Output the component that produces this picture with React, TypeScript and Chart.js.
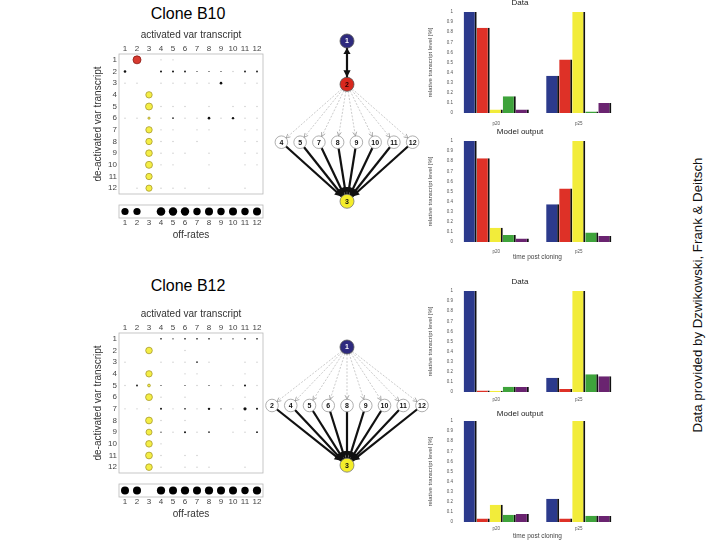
import React, { useEffect, useRef } from 'react';
import { Chart, registerables } from 'chart.js';

Chart.register(...registerables);
const FONT = '"Liberation Sans", Arial, Helvetica, sans-serif';
Chart.defaults.font.family = FONT;

// ---------------- DATA ----------------
// matrix: activated (column) x de-activated (row) var transcripts
const varIds = [1, 2, 3, 4, 5, 6, 7, 8, 9, 10, 11, 12];
const varTickLabels = ['1', '2', '3', '4', '5', '6', '7', '8', '9', '10', '11', '12'];

// [column, row, size]
const b10Red = [[2, 1, 4.0]];
const b10Yellow = [[3, 4, 3.2], [3, 5, 3.5], [3, 6, 1.1], [3, 7, 3.2], [3, 8, 3.2], [3, 9, 3.3], [3, 10, 3.5], [3, 11, 3.2], [3, 12, 3.1]];
const b10Black = [[1, 2, 1.3], [4, 2, 1.0], [5, 2, 1.0], [6, 2, 0.9], [7, 2, 0.6], [8, 2, 0.6], [9, 2, 0.6], [11, 2, 0.9], [12, 2, 0.9], [9, 3, 1.3], [5, 6, 0.8], [8, 6, 1.3], [10, 6, 1.2]];
// [column, row] faint traces
const b10Faint = [[4, 1], [5, 1], [10, 2], [1, 3], [2, 3], [4, 3], [5, 3], [6, 3], [7, 3], [8, 3], [11, 3], [12, 3], [4, 5], [5, 5], [6, 5], [8, 5], [10, 5], [11, 5], [12, 5], [1, 6], [2, 6], [4, 6], [6, 6], [7, 6], [9, 6], [11, 6], [12, 6], [4, 7], [5, 7], [7, 7], [8, 7], [11, 7], [12, 7], [4, 8], [5, 8], [7, 8], [11, 8], [12, 8], [4, 9], [5, 9], [6, 9], [8, 9], [11, 9], [12, 9], [4, 10], [5, 10], [8, 10], [11, 10], [12, 10], [2, 12], [4, 12], [5, 12], [6, 12], [8, 12], [11, 12]];
const b10OffRates = [3.6, 3.6, null, 4.3, 4.2, 4.2, 3.7, 4.0, 3.7, 4.0, 3.7, 4.0];

const b12Red: number[][] = [];
const b12Yellow = [[3, 2, 3.3], [3, 4, 3.2], [3, 5, 1.4], [3, 6, 3.4], [3, 8, 3.4], [3, 9, 3.0], [3, 10, 3.3], [3, 11, 3.4], [3, 12, 3.3]];
const b12Black = [[4, 1, 0.8], [5, 1, 0.7], [6, 1, 0.8], [7, 1, 0.8], [8, 1, 0.8], [9, 1, 0.7], [10, 1, 0.7], [11, 1, 0.8], [12, 1, 0.8], [7, 3, 0.8], [2, 5, 0.9], [4, 5, 0.6], [6, 5, 0.6], [8, 5, 0.6], [11, 5, 1.0], [4, 7, 1.0], [6, 7, 0.8], [8, 7, 1.2], [9, 7, 0.7], [11, 7, 1.6], [12, 7, 1.0], [4, 9, 0.6], [6, 9, 1.0], [8, 9, 0.8], [12, 9, 0.9]];
const b12Faint = [[6, 2], [1, 3], [4, 3], [5, 3], [6, 3], [8, 3], [11, 3], [12, 3], [6, 4], [7, 4], [11, 4], [1, 5], [7, 5], [9, 5], [10, 5], [12, 5], [4, 6], [6, 6], [11, 6], [1, 7], [2, 7], [3, 7], [5, 7], [7, 7], [10, 7], [4, 8], [6, 8], [11, 8], [5, 9], [7, 9], [10, 9], [11, 9], [4, 10], [4, 11], [6, 11], [7, 11], [4, 12], [6, 12], [7, 12], [8, 12], [11, 12]];
const b12OffRates = [4.0, 4.0, null, 4.1, 4.0, 4.1, 4.0, 4.1, 4.0, 4.0, 3.7, 4.1];

// networks: chain nodes (top), middle row, sink node
const b10Chain = ['1', '2'];
const b10Middle = ['4', '5', '7', '8', '9', '10', '11', '12'];
const b12Chain = ['1'];
const b12Middle = ['2', '4', '5', '6', '8', '9', '10', '11', '12'];
const sinkNode = '3';

// bar charts: rows = transcript series, columns = time points
const timeLabels = ['p20', 'p25'];
const seriesNames = ['var 1', 'var 2', 'var 3', 'var a', 'var b'];
const b10DataValues = [[1.0, 0.37], [0.845, 0.53], [0.035, 1.0], [0.165, 0.015], [0.035, 0.1]];
const b10ModelValues = [[1.0, 0.375], [0.83, 0.53], [0.14, 1.0], [0.07, 0.095], [0.035, 0.06]];
const b12DataValues = [[1.0, 0.14], [0.015, 0.03], [0.012, 1.0], [0.053, 0.175], [0.05, 0.155]];
const b12ModelValues = [[1.0, 0.23], [0.035, 0.035], [0.17, 1.0], [0.073, 0.063], [0.08, 0.06]];

// ---------------- STYLE ----------------
const barColors = ['#2c3a8c', '#de3127', '#f2ec3a', '#3ea33b', '#6a2470'];
const chainFills = ['#2e2a7e', '#d8281e'];
const chainTexts = ['#ffffff', '#2a0000'];
const sinkFill = '#f5ee2a';

const boxPlugin = {
  id: 'box',
  afterDraw(chart: any) {
    const { ctx, chartArea: a } = chart;
    ctx.save();
    ctx.strokeStyle = '#b8b8b8';
    ctx.lineWidth = 0.8;
    ctx.strokeRect(a.left, a.top, a.right - a.left, a.bottom - a.top);
    ctx.restore();
  },
};

function ChartBox(props: { left: number; top: number; width: number; height: number; make: () => any }) {
  const ref = useRef<HTMLCanvasElement>(null);
  useEffect(() => {
    const chart = new Chart(ref.current as HTMLCanvasElement, props.make());
    return () => chart.destroy();
  }, []);
  const { left, top, width, height } = props;
  return (
    <canvas
      ref={ref}
      width={width}
      height={height}
      style={{ position: 'absolute', left, top, width, height }}
    />
  );
}

const fixedTicks = (a: any) => {
  a.ticks = varIds.map((v) => ({ value: v }));
};

function matrixConfig(red: number[][], yellow: number[][], black: number[][], faint: number[][]) {
  const pts = (arr: number[][]) => arr.map(([c, r, s]) => ({ x: c, y: r, r: s }));
  return {
    type: 'bubble',
    data: {
      datasets: [
        { data: pts(red), backgroundColor: '#d83a30', borderColor: '#8a1a14', borderWidth: 0.8 },
        { data: pts(yellow), backgroundColor: '#f4ee45', borderColor: '#a89a30', borderWidth: 0.8 },
        { data: pts(black), backgroundColor: '#111111', borderWidth: 0 },
        { data: faint.map(([c, r]) => ({ x: c, y: r, r: 0.7 })), backgroundColor: '#c4c4c4', borderWidth: 0 },
      ],
    },
    options: {
      animation: false,
      responsive: false,
      events: [],
      layout: { autoPadding: false, padding: { left: 0, right: 4, top: 0, bottom: 10 } },
      plugins: { legend: { display: false }, tooltip: { enabled: false } },
      scales: {
        x: {
          type: 'linear',
          position: 'top',
          min: 0.5,
          max: 12.5,
          afterBuildTicks: fixedTicks,
          afterFit: (a: any) => { a.height = 31; },
          grid: { display: false, drawTicks: false },
          border: { display: false },
          ticks: { font: { size: 8 }, color: '#444', padding: 0, autoSkip: false, maxRotation: 0, callback: (_v: any, i: number) => varTickLabels[i] },
          title: { display: true, text: 'activated var transcript', font: { size: 10 }, color: '#333', padding: { top: 6, bottom: 0 } },
        },
        y: {
          type: 'linear',
          reverse: true,
          min: 0.5,
          max: 12.5,
          afterBuildTicks: fixedTicks,
          afterFit: (a: any) => { a.width = 34; },
          grid: { display: false, drawTicks: false },
          border: { display: false },
          ticks: { font: { size: 8 }, color: '#444', padding: 2, autoSkip: false, callback: (_v: any, i: number) => varTickLabels[i] },
          title: { display: true, text: 'de-activated var transcript', font: { size: 10 }, color: '#333', padding: { top: 7, bottom: 0 } },
        },
      },
    },
    plugins: [boxPlugin],
  };
}

function offRateConfig(sizes: (number | null)[]) {
  const pts = sizes
    .map((s, i) => (s == null ? null : { x: varIds[i], y: 1, r: s }))
    .filter((p) => p !== null);
  return {
    type: 'bubble',
    data: { datasets: [{ data: pts, backgroundColor: '#000000', borderWidth: 0 }] },
    options: {
      animation: false,
      responsive: false,
      events: [],
      layout: { autoPadding: false, padding: { left: 34, right: 4, top: 5, bottom: 0 } },
      plugins: { legend: { display: false }, tooltip: { enabled: false } },
      scales: {
        x: {
          type: 'linear',
          position: 'bottom',
          min: 0.5,
          max: 12.5,
          afterBuildTicks: fixedTicks,
          afterFit: (a: any) => { a.height = 27; },
          grid: { display: false, drawTicks: false },
          border: { display: false },
          ticks: { font: { size: 8 }, color: '#444', padding: 0, autoSkip: false, maxRotation: 0, callback: (_v: any, i: number) => varTickLabels[i] },
          title: { display: true, text: 'off-rates', font: { size: 10 }, color: '#333', padding: { top: 0, bottom: 4 } },
        },
        y: { display: false, min: 0, max: 2 },
      },
    },
    plugins: [boxPlugin],
  };
}

// network layout
const NET_X_UNIT = 18.75;
const NET_Y_UNIT = 58.5;

type NetNode = { id: string; x: number; y: number; r: number; fill: string; text: string; border: string };

function buildNetwork(chain: string[], chainLevels: number[], middle: string[], midLevel: number, sinkLevel: number) {
  const nodes: NetNode[] = [];
  chain.forEach((id, i) => nodes.push({ id, x: 0, y: chainLevels[i], r: 7, fill: chainFills[i], text: chainTexts[i], border: '#555555' }));
  middle.forEach((id, i) => nodes.push({ id, x: i - (middle.length - 1) / 2, y: midLevel, r: 6.3, fill: '#ffffff', text: '#111111', border: '#9a9a9a' }));
  nodes.push({ id: sinkNode, x: 0, y: sinkLevel, r: 7, fill: sinkFill, text: '#111111', border: '#777777' });
  const edges: [string, string, string][] = [];
  for (let i = 0; i < chain.length - 1; i++) edges.push([chain[i], chain[i + 1], 'double']);
  const last = chain[chain.length - 1];
  middle.forEach((m) => edges.push([last, m, 'thin']));
  middle.forEach((m) => edges.push([m, sinkNode, 'thick']));
  return { nodes, edges };
}

function drawHead(ctx: CanvasRenderingContext2D, px: number, py: number, r: number, ux: number, uy: number, len: number, hw: number, filled: boolean, color: string) {
  const tx = px - ux * r;
  const ty = py - uy * r;
  const bx = tx - ux * len;
  const by = ty - uy * len;
  const nx = -uy;
  const ny = ux;
  ctx.beginPath();
  ctx.moveTo(bx + nx * hw, by + ny * hw);
  ctx.lineTo(tx, ty);
  ctx.lineTo(bx - nx * hw, by - ny * hw);
  if (filled) {
    ctx.closePath();
    ctx.fillStyle = color;
    ctx.fill();
  } else {
    ctx.setLineDash([]);
    ctx.strokeStyle = color;
    ctx.lineWidth = 0.7;
    ctx.stroke();
  }
}

function networkConfig(net: { nodes: NetNode[]; edges: [string, string, string][] }, width: number, height: number, topOffset: number) {
  const byId = (id: string) => net.nodes.find((n) => n.id === id) as NetNode;
  const edgeSets = net.edges.map(([a, b, kind]) => {
    const A = byId(a);
    const B = byId(b);
    return {
      data: [{ x: A.x, y: A.y }, { x: B.x, y: B.y }],
      showLine: true,
      pointRadius: 0,
      borderColor: kind === 'thin' ? '#a8a8a8' : '#111111',
      borderWidth: kind === 'thin' ? 0.6 : 2.2,
      borderDash: kind === 'thin' ? [2, 1.5] : [],
    };
  });
  const nodeSet = {
    data: net.nodes.map((n) => ({ x: n.x, y: n.y })),
    pointRadius: net.nodes.map((n) => n.r),
    pointBackgroundColor: net.nodes.map((n) => n.fill),
    pointBorderColor: net.nodes.map((n) => n.border),
    pointBorderWidth: 0.8,
    showLine: false,
  };
  const plugin = {
    id: 'netHeads',
    afterDatasetsDraw(chart: any) {
      const { ctx } = chart;
      const xs = chart.scales.x;
      const ys = chart.scales.y;
      const px = (n: NetNode) => xs.getPixelForValue(n.x);
      const py = (n: NetNode) => ys.getPixelForValue(n.y);
      ctx.save();
      for (const [a, b, kind] of net.edges) {
        const A = byId(a);
        const B = byId(b);
        const dx = px(B) - px(A);
        const dy = py(B) - py(A);
        const d = Math.hypot(dx, dy);
        const ux = dx / d;
        const uy = dy / d;
        if (kind === 'thin') {
          drawHead(ctx, px(B), py(B), B.r, ux, uy, 4, 2, false, '#8a8a8a');
        } else {
          drawHead(ctx, px(B), py(B), B.r, ux, uy, 7, 3.6, true, '#111111');
          if (kind === 'double') drawHead(ctx, px(A), py(A), A.r, -ux, -uy, 6, 3.6, true, '#111111');
        }
      }
      ctx.font = 'bold 7px ' + FONT;
      ctx.textAlign = 'center';
      ctx.textBaseline = 'middle';
      for (const n of net.nodes) {
        ctx.fillStyle = n.text;
        ctx.fillText(n.id, px(n), py(n) + 0.5);
      }
      ctx.restore();
    },
  };
  const halfX = width / 2 / NET_X_UNIT;
  return {
    type: 'scatter',
    data: { datasets: [nodeSet, ...edgeSets] },
    options: {
      animation: false,
      responsive: false,
      events: [],
      layout: { autoPadding: false, padding: 0 },
      plugins: { legend: { display: false }, tooltip: { enabled: false } },
      scales: {
        x: { display: false, type: 'linear', min: -halfX, max: halfX },
        y: { display: false, type: 'linear', reverse: true, min: -topOffset / NET_Y_UNIT, max: (height - topOffset) / NET_Y_UNIT },
      },
    },
    plugins: [plugin],
  };
}

type BarGeom = { tpt: number; tpb: number; xh: number; xp: number; xtb?: number };

function barConfig(values: number[][], title: string, xTitle: string | null, g: BarGeom) {
  return {
    type: 'bar',
    data: {
      labels: timeLabels,
      datasets: values.map((v, i) => ({
        label: seriesNames[i],
        data: v,
        backgroundColor: barColors[i],
        borderColor: '#111111',
        borderWidth: { top: 0, left: 0, bottom: 0, right: 2 },
        borderSkipped: false,
        categoryPercentage: 0.79,
        barPercentage: 1,
      })),
    },
    options: {
      animation: false,
      responsive: false,
      events: [],
      layout: { autoPadding: false, padding: { left: 0, right: 5, top: 0, bottom: 0 } },
      plugins: {
        legend: { display: false },
        tooltip: { enabled: false },
        title: { display: true, text: title, font: { size: 8, weight: 'normal' }, color: '#222', padding: { top: g.tpt, bottom: g.tpb } },
      },
      scales: {
        x: {
          grid: { display: false, drawTicks: false },
          border: { display: false },
          ticks: { font: { size: 4.5 }, color: '#555', padding: g.xp, maxRotation: 0 },
          title: xTitle
            ? { display: true, text: xTitle, font: { size: 6.5 }, color: '#444', padding: { top: 0, bottom: g.xtb || 0 } }
            : { display: false },
          afterFit: (a: any) => { a.height = g.xh; },
        },
        y: {
          min: 0,
          max: 1,
          grid: { display: false, drawTicks: false },
          border: { display: false },
          ticks: {
            stepSize: 0.1,
            font: { size: 4.5 },
            color: '#555',
            padding: 2,
            callback: (v: any) => String(Number(Number(v).toFixed(1))),
          },
          title: { display: true, text: 'relative transcript level [%]', font: { size: 6 }, color: '#444', padding: { top: 6.4, bottom: 0 } },
          afterFit: (a: any) => { a.width = 35; },
        },
      },
    },
  };
}

const b10Net = buildNetwork(b10Chain, [0, 0.74], b10Middle, 1.73, 2.74);
const b12Net = buildNetwork(b12Chain, [0], b12Middle, 1, 2.02);

export default function App() {
  const titleStyle: React.CSSProperties = {
    position: 'absolute',
    transform: 'translate(-50%, -50%)',
    fontSize: 16,
    lineHeight: '16px',
    fontFamily: FONT,
    color: '#000',
    whiteSpace: 'nowrap',
  };
  return (
    <div style={{ position: 'absolute', left: 0, top: 0, width: 720, height: 540, overflow: 'hidden', background: '#fff', fontFamily: FONT }}>
      <div style={{ ...titleStyle, left: 188, top: 14 }}>Clone B10</div>
      <div style={{ ...titleStyle, left: 188, top: 286 }}>Clone B12</div>

      <ChartBox left={85} top={23} width={182} height={181} make={() => matrixConfig(b10Red, b10Yellow, b10Black, b10Faint)} />
      <ChartBox left={85} top={200} width={182} height={45} make={() => offRateConfig(b10OffRates)} />
      <ChartBox left={85} top={302} width={182} height={181} make={() => matrixConfig(b12Red, b12Yellow, b12Black, b12Faint)} />
      <ChartBox left={85} top={479} width={182} height={45} make={() => offRateConfig(b12OffRates)} />

      <ChartBox left={262} top={25} width={170} height={195} make={() => networkConfig(b10Net, 170, 195, 16)} />
      <ChartBox left={262} top={330} width={170} height={150} make={() => networkConfig(b12Net, 170, 150, 17)} />

      <ChartBox left={420} top={-6} width={205} height={136} make={() => barConfig(b10DataValues, 'Data', null, { tpt: 3.7, tpb: 4.7, xh: 17, xp: 7.6 })} />
      <ChartBox left={420} top={122} width={205} height={142} make={() => barConfig(b10ModelValues, 'Model output', 'time post cloning', { tpt: 5.2, tpb: 4.2, xh: 22, xp: 7, xtb: 2.4 })} />
      <ChartBox left={420} top={272} width={205} height={136} make={() => barConfig(b12DataValues, 'Data', null, { tpt: 4.9, tpb: 4.5, xh: 16, xp: 4.6 })} />
      <ChartBox left={420} top={403} width={205} height={137} make={() => barConfig(b12ModelValues, 'Model output', 'time post cloning', { tpt: 5.5, tpb: 2.9, xh: 18, xp: 4.3, xtb: 0.1 })} />

      <div
        style={{
          position: 'absolute',
          left: 698,
          top: 294.5,
          transform: 'translate(-50%, -50%) rotate(-90deg)',
          fontSize: 13.3,
          lineHeight: '16px',
          whiteSpace: 'nowrap',
          color: '#111',
          fontFamily: FONT,
        }}
      >
        Data provided by Dzwikowski, Frank &amp; Deitsch
      </div>
    </div>
  );
}
